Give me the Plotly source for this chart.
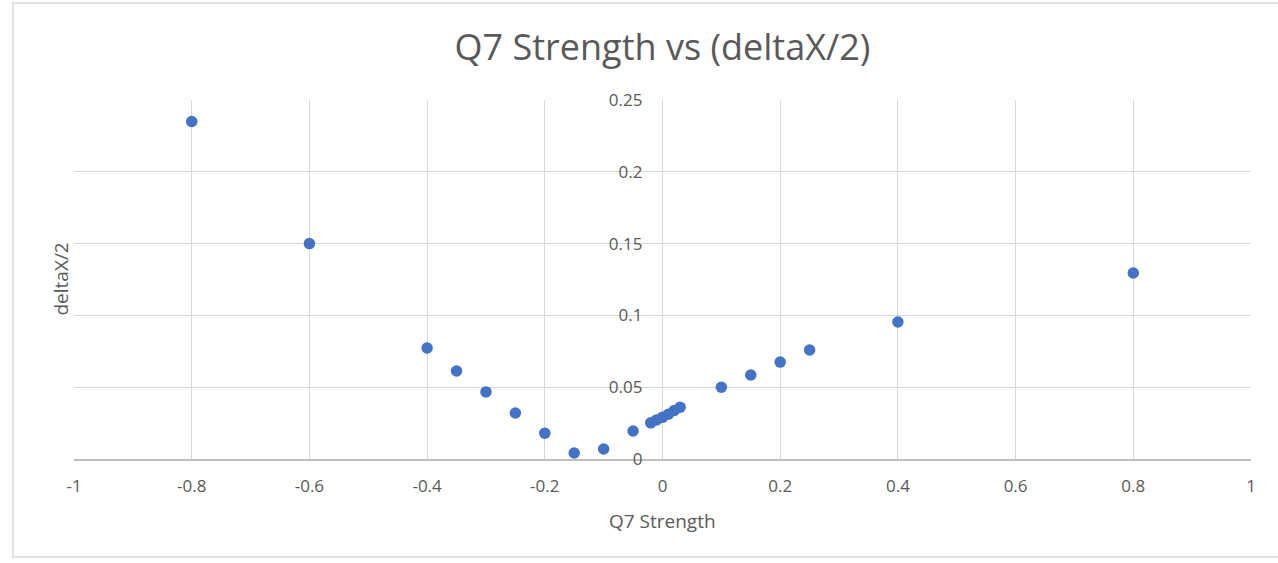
import plotly.graph_objects as go

q7_strength = [-0.8, -0.6, -0.4, -0.35, -0.3, -0.25, -0.2, -0.15, -0.1, -0.05,
               -0.02, -0.01, 0.0, 0.01, 0.02, 0.03, 0.1, 0.15, 0.2, 0.25, 0.4, 0.8]
delta_x_half = [0.235, 0.150, 0.0773, 0.0613, 0.0467, 0.032, 0.018, 0.0042, 0.007, 0.0195,
                0.0252, 0.0272, 0.029, 0.0312, 0.0338, 0.036, 0.050, 0.0585, 0.0675, 0.0759, 0.0954, 0.1295]

x_ticks = [-1, -0.8, -0.6, -0.4, -0.2, 0, 0.2, 0.4, 0.6, 0.8, 1]
y_ticks = [0, 0.05, 0.1, 0.15, 0.2, 0.25]

title_text = "Q7 Strength vs (deltaX/2)"
x_title = "Q7 Strength"
y_title = "deltaX/2"

grey_text = "#595959"
grid = "#d9d9d9"

fig = go.Figure()
fig.add_trace(go.Scatter(
    x=q7_strength, y=delta_x_half, mode="markers",
    marker=dict(color="#4472C4", size=11.5, line=dict(width=0)),
    showlegend=False, hoverinfo="x+y",
))

fig.update_layout(
    width=1278, height=563,
    margin=dict(l=74, r=27, t=100, b=104),
    paper_bgcolor="white", plot_bgcolor="white",
    font=dict(family="Open Sans, Liberation Sans, sans-serif", color=grey_text, size=13),
    title=dict(text=title_text, x=0.5, xref="paper", xanchor="center",
               y=1 - 47 / 563, yref="container", yanchor="middle",
               font=dict(size=36, color=grey_text)),
    xaxis=dict(
        range=[-1, 1], tickvals=x_ticks, ticktext=[f"{v:g}" for v in x_ticks],
        showgrid=True, gridcolor=grid, gridwidth=1,
        zeroline=False, showline=True, linecolor="#bfbfbf", linewidth=1.5,
        ticks="", ticklabelstandoff=11,
        tickfont=dict(size=17, color=grey_text),
    ),
    yaxis=dict(
        range=[0, 0.25], tickvals=y_ticks, ticktext=[f"{v:g}" for v in y_ticks],
        anchor="free", position=0.5,
        showgrid=True, gridcolor=grid, gridwidth=1,
        zeroline=False, showline=False,
        ticks="", ticklabelstandoff=20,
        tickfont=dict(size=17, color=grey_text),
    ),
    annotations=[
        dict(text=x_title, x=0.5, xref="paper", y=-0.173, yref="paper",
             xanchor="center", yanchor="middle", showarrow=False,
             font=dict(size=19, color=grey_text)),
        dict(text=y_title, x=(60 - 74) / 1177, xref="paper", y=0.5, yref="paper",
             xanchor="center", yanchor="middle", showarrow=False, textangle=-90,
             font=dict(size=19, color=grey_text)),
    ],
    shapes=[
        dict(type="rect", xref="paper", yref="paper",
             x0=(13 - 74) / 1177, x1=(1290 - 74) / 1177,
             y0=(459 - 557) / 359, y1=(459 - 3) / 359,
             line=dict(color="#d9d9d9", width=1.5), fillcolor="rgba(0,0,0,0)", layer="below"),
    ],
)

fig.write_html("out.html", config={"displayModeBar": False},
               post_script="document.body.style.margin='0';document.body.style.overflow='hidden';")
